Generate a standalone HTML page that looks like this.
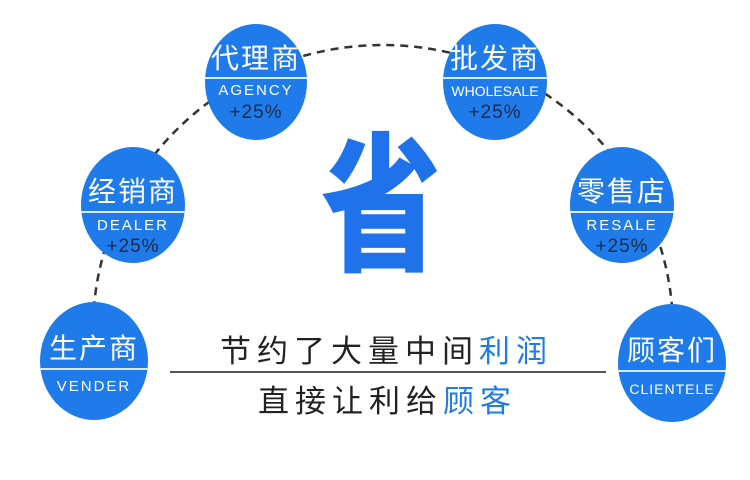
<!DOCTYPE html>
<html style="overflow:hidden;height:480px"><head><meta charset="utf-8"><style>
body{margin:0;width:750px;height:480px;background:#fff;overflow:hidden;position:relative;font-family:"Liberation Sans","Noto Sans CJK SC",sans-serif}
.c{position:absolute;background:#1f7be9;border-radius:50%;color:#fff;text-align:center}
.c .zh{position:absolute;left:0;right:0;font-size:28px;line-height:36px;letter-spacing:2px;font-family:"Noto Sans CJK SC",sans-serif}
.c .ln{position:absolute;left:0;right:0;height:2px;background:#dce9fb}
.c .en{position:absolute;left:0;right:0;font-size:15px;line-height:18px;letter-spacing:2px}
.c .p{position:absolute;left:0;right:0;font-size:19px;line-height:22px;letter-spacing:1px;color:#1b2a4a}
.t{position:absolute;font-family:"Noto Sans CJK SC",sans-serif;color:#222;font-size:31px;line-height:40px;letter-spacing:6px;white-space:nowrap}
.b{color:#1f7be9}
</style></head><body>
<svg width="750" height="480" style="position:absolute;left:0;top:0;display:block">
<defs><clipPath id="cp"><rect x="0" y="0" width="750" height="304"/></clipPath></defs>
<ellipse clip-path="url(#cp)" cx="383" cy="330" rx="290" ry="285" fill="none" stroke="#333" stroke-width="2.5" stroke-dasharray="8,6"/>
</svg>
<div class="c" style="left:205px;top:24px;width:102px;height:116px"><div class="zh" style="top:15px">代理商</div><div class="ln" style="top:53px"></div><div class="en" style="top:58px">AGENCY</div><div class="p" style="top:78px">+25%</div></div>
<div class="c" style="left:443px;top:24px;width:104px;height:116px"><div class="zh" style="top:15px">批发商</div><div class="ln" style="top:53px"></div><div class="en" style="top:58px;font-size:14px;letter-spacing:0">WHOLESALE</div><div class="p" style="top:78px">+25%</div></div>
<div class="c" style="left:81px;top:147px;width:104px;height:116px"><div class="zh" style="top:25px">经销商</div><div class="ln" style="top:64px"></div><div class="en" style="top:70px">DEALER</div><div class="p" style="top:89px">+25%</div></div>
<div class="c" style="left:570px;top:147px;width:104px;height:116px"><div class="zh" style="top:25px">零售店</div><div class="ln" style="top:64px"></div><div class="en" style="top:70px">RESALE</div><div class="p" style="top:89px">+25%</div></div>
<div class="c" style="left:40px;top:302px;width:108px;height:118px"><div class="zh" style="top:27px">生产商</div><div class="ln" style="top:66px"></div><div class="en" style="top:76px">VENDER</div></div>
<div class="c" style="left:618px;top:304px;width:108px;height:118px"><div class="zh" style="top:27px">顾客们</div><div class="ln" style="top:66px"></div><div class="en" style="top:76px;font-size:14px;letter-spacing:1px">CLIENTELE</div></div>
<div style="position:absolute;left:308px;top:110px;width:130px;height:180px;font-family:'Noto Sans CJK SC',sans-serif;font-weight:900;font-size:150px;line-height:170px;color:#1f72ea;text-align:center;transform:scaleX(0.8)">省</div>
<div class="t" style="left:220px;top:329px">节约了大量中间<span class="b">利润</span></div>
<div style="position:absolute;left:170px;top:371px;width:436px;height:2px;background:#555"></div>
<div class="t" style="left:258px;top:379px">直接让利给<span class="b">顾客</span></div>
</body></html>
